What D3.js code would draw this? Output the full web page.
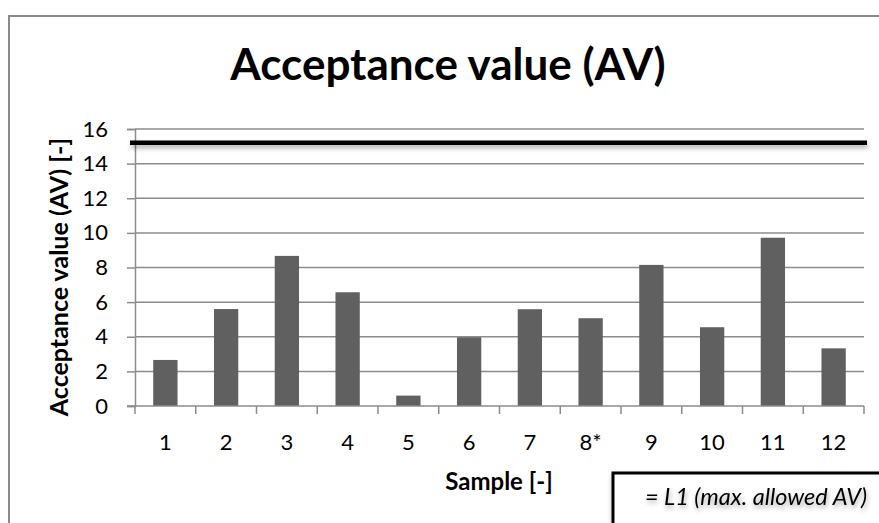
<!DOCTYPE html>
<html>
<head>
<meta charset="utf-8">
<script src="https://cdn.jsdelivr.net/npm/d3@7"></script>
<style>
	body { margin: 0; background: #fff; }
	text { font-family: Lato, "Open Sans", sans-serif; fill: #000; }
</style>
</head>
<body>
<div></div>
<script>
var samples = ["1", "2", "3", "4", "5", "6", "7", "8*", "9", "10", "11", "12"],
	avValues = [2.66, 5.6, 8.67, 6.57, 0.6, 3.97, 5.59, 5.07, 8.15, 4.55, 9.72, 3.33],
	limitL1 = 15.2,
	yTicks = [0, 2, 4, 6, 8, 10, 12, 14, 16];

var titleText = "Acceptance value (AV)",
	yTitle = "Acceptance value (AV) [-]",
	xTitle = "Sample [-]",
	legendText = "= L1 (max. allowed AV)";

var width = 879,
	height = 523,
	plot = {left: 135, right: 864, top: 129, bottom: 406};

var svg = d3.select("div")
	.append("svg")
	.attr("width", width)
	.attr("height", height);

// shadow for the limit line and the legend box
svg.append("defs").append("filter")
	.attr("id", "shadow")
	.attr("filterUnits", "userSpaceOnUse")
	.attr("x", 0).attr("y", 0)
	.attr("width", width).attr("height", height)
	.append("feDropShadow")
	.attr("dx", 1).attr("dy", 3)
	.attr("stdDeviation", 2.5)
	.attr("flood-color", "#000")
	.attr("flood-opacity", 0.35);

// outer chart frame (runs past the window on the right and bottom)
svg.append("rect")
	.attr("x", 9).attr("y", 16)
	.attr("width", 900).attr("height", 540)
	.attr("fill", "#fff")
	.attr("stroke", "#8c8c8c")
	.attr("stroke-width", 2);

var x = d3.scaleBand()
	.domain(samples)
	.range([plot.left, plot.right])
	.paddingInner(0.6)
	.paddingOuter(0.3);

var y = d3.scaleLinear()
	.domain([0, 16])
	.range([plot.bottom, plot.top]);

// gridlines
svg.append("g")
	.selectAll("line")
	.data(yTicks.filter(d => d > 0))
	.enter().append("line")
	.attr("x1", plot.left).attr("x2", plot.right)
	.attr("y1", d => y(d)).attr("y2", d => y(d))
	.attr("stroke", "#8c8c8c")
	.attr("stroke-width", 1.5);

// bars
svg.append("g")
	.selectAll("rect")
	.data(avValues)
	.enter().append("rect")
	.attr("x", (d, i) => x(samples[i]))
	.attr("y", d => y(d))
	.attr("width", x.bandwidth())
	.attr("height", d => plot.bottom - y(d))
	.attr("fill", "#606060");

// y axis
var yAxis = d3.axisLeft(y).tickValues(yTicks).tickSize(8).tickPadding(19);
var yAxisGroup = svg.append("g")
	.attr("transform", "translate(" + plot.left + ",0)")
	.call(yAxis);
yAxisGroup.select(".domain").attr("stroke", "#8c8c8c").attr("stroke-width", 1.5);
yAxisGroup.selectAll(".tick line").attr("stroke", "#8c8c8c").attr("stroke-width", 1.5);
yAxisGroup.selectAll(".tick text")
	.style("font-size", "22px")
	.style("font-family", "Lato, sans-serif")
	.attr("fill", "#000");

// x axis: ticks on the band edges
var bandEdges = samples.map(s => x(s) - x.step() * x.paddingInner() / 2);
bandEdges.push(plot.right);
var xAxisGroup = svg.append("g");
xAxisGroup.append("line")
	.attr("x1", plot.left - 8).attr("x2", plot.right)
	.attr("y1", plot.bottom).attr("y2", plot.bottom)
	.attr("stroke", "#8c8c8c").attr("stroke-width", 1.5);
xAxisGroup.selectAll(".edge")
	.data(bandEdges)
	.enter().append("line")
	.attr("x1", d => d).attr("x2", d => d)
	.attr("y1", plot.bottom).attr("y2", plot.bottom + 8)
	.attr("stroke", "#8c8c8c").attr("stroke-width", 1.5);
xAxisGroup.selectAll(".lbl")
	.data(samples)
	.enter().append("text")
	.attr("x", d => x(d) + x.bandwidth() / 2)
	.attr("y", 450)
	.attr("text-anchor", "middle")
	.style("font-size", "22px")
	.text(d => d);

// L1 limit line
svg.append("line")
	.attr("x1", 130).attr("x2", 867)
	.attr("y1", y(limitL1)).attr("y2", y(limitL1))
	.attr("stroke", "#000")
	.attr("stroke-width", 4.5)
	.attr("filter", "url(#shadow)");

// titles
svg.append("text")
	.attr("x", 448).attr("y", 80)
	.attr("text-anchor", "middle")
	.style("font-size", "44px")
	.style("font-weight", "bold")
	.text(titleText);

svg.append("text")
	.attr("transform", "translate(68,277) rotate(-90)")
	.attr("text-anchor", "middle")
	.style("font-size", "25px")
	.style("font-weight", "bold")
	.text(yTitle);

svg.append("text")
	.attr("x", 499).attr("y", 490)
	.attr("text-anchor", "middle")
	.style("font-size", "24px")
	.style("font-weight", "bold")
	.text(xTitle);

// legend box, cut off by the window edge
var legend = svg.append("g");
legend.append("rect")
	.attr("x", 613).attr("y", 473)
	.attr("width", 300).attr("height", 80)
	.attr("fill", "#fff")
	.attr("stroke", "#000")
	.attr("stroke-width", 3)
	.attr("filter", "url(#shadow)");
legend.append("text")
	.attr("x", 756).attr("y", 505)
	.attr("text-anchor", "middle")
	.style("font-size", "23.5px")
	.style("font-style", "italic")
	.attr("filter", "url(#shadow)")
	.text(legendText);
</script>
</body>
</html>
